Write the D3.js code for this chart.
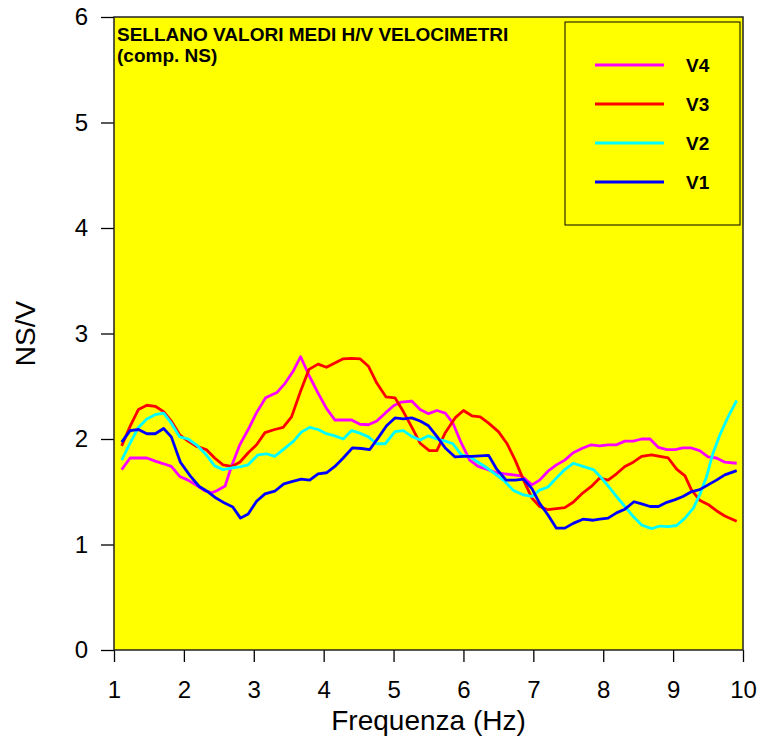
<!DOCTYPE html>
<html>
<head>
<meta charset="utf-8">
<script src="https://cdn.jsdelivr.net/npm/d3@7/dist/d3.min.js"></script>
<style>
  html, body { margin: 0; padding: 0; background: #ffffff; }
  svg { display: block; font-family: "Liberation Sans", Arial, sans-serif; }
</style>
</head>
<body>
<svg id="chart" width="762" height="743"></svg>
<script>
// Mean H/V ratio (NS component) for four velocimeters, Sellano
const freqV4 = [1.11,1.23,1.35,1.47,1.59,1.71,1.82,1.94,2.06,2.18,2.30,2.40,2.47,2.59,2.68,2.80,2.92,3.04,3.17,3.33,3.45,3.57,3.67,3.80,3.92,4.04,4.16,4.28,4.40,4.52,4.64,4.76,4.88,5.00,5.11,5.26,5.38,5.50,5.62,5.74,5.85,5.97,6.09,6.21,6.33,6.47,6.59,6.71,6.83,6.98,7.09,7.21,7.33,7.45,7.57,7.71,7.83,7.95,8.07,8.19,8.31,8.43,8.55,8.67,8.79,8.91,9.03,9.14,9.26,9.38,9.50,9.62,9.74,9.91];
const hvV4 = [1.71,1.82,1.82,1.82,1.79,1.765,1.74,1.645,1.61,1.56,1.51,1.49,1.51,1.555,1.74,1.945,2.09,2.25,2.39,2.44,2.53,2.65,2.78,2.59,2.435,2.29,2.18,2.18,2.18,2.14,2.135,2.17,2.245,2.315,2.35,2.36,2.28,2.24,2.27,2.245,2.15,1.96,1.80,1.74,1.715,1.68,1.67,1.66,1.65,1.565,1.61,1.695,1.755,1.80,1.87,1.915,1.945,1.935,1.945,1.945,1.98,1.98,2.00,2.00,1.92,1.90,1.90,1.915,1.915,1.89,1.83,1.82,1.78,1.77];

const freqV3 = [1.11,1.23,1.35,1.47,1.59,1.71,1.82,1.94,2.06,2.18,2.32,2.44,2.56,2.68,2.80,2.92,3.04,3.16,3.30,3.42,3.54,3.66,3.79,3.92,4.04,4.16,4.28,4.40,4.52,4.64,4.76,4.89,5.02,5.14,5.27,5.38,5.51,5.62,5.74,5.88,6.00,6.12,6.24,6.36,6.50,6.62,6.74,6.86,6.98,7.09,7.21,7.33,7.45,7.57,7.71,7.83,7.95,8.07,8.19,8.31,8.43,8.55,8.69,8.81,8.93,9.05,9.17,9.26,9.38,9.50,9.62,9.74,9.91];
const hvV3 = [1.935,2.12,2.28,2.32,2.31,2.26,2.17,2.04,1.98,1.93,1.90,1.82,1.755,1.74,1.78,1.87,1.945,2.06,2.09,2.11,2.21,2.435,2.66,2.71,2.68,2.72,2.76,2.765,2.76,2.69,2.53,2.40,2.39,2.26,2.10,1.96,1.89,1.89,2.06,2.20,2.27,2.22,2.21,2.15,2.07,1.96,1.80,1.61,1.44,1.36,1.33,1.34,1.35,1.40,1.49,1.55,1.63,1.61,1.67,1.74,1.78,1.835,1.85,1.835,1.82,1.715,1.65,1.52,1.42,1.38,1.32,1.27,1.22];

const freqV2 = [1.11,1.23,1.35,1.47,1.59,1.71,1.82,1.94,2.06,2.18,2.32,2.44,2.56,2.68,2.80,2.92,3.06,3.18,3.30,3.42,3.57,3.68,3.80,3.92,4.04,4.16,4.28,4.40,4.52,4.64,4.76,4.88,5.02,5.14,5.26,5.38,5.50,5.62,5.74,5.85,5.97,6.09,6.21,6.35,6.47,6.59,6.71,6.86,6.98,7.09,7.21,7.33,7.45,7.57,7.71,7.86,7.95,8.07,8.19,8.31,8.43,8.55,8.69,8.81,8.93,9.05,9.17,9.29,9.38,9.48,9.57,9.67,9.79,9.91];
const hvV2 = [1.80,1.96,2.11,2.19,2.23,2.245,2.15,2.02,2.00,1.945,1.85,1.745,1.71,1.725,1.735,1.755,1.85,1.86,1.835,1.90,1.98,2.065,2.11,2.09,2.05,2.03,2.00,2.08,2.055,2.02,1.955,1.955,2.07,2.08,2.025,1.99,2.03,2.00,1.98,1.955,1.85,1.83,1.78,1.72,1.66,1.60,1.515,1.47,1.455,1.515,1.545,1.63,1.71,1.77,1.74,1.71,1.65,1.555,1.455,1.36,1.265,1.185,1.15,1.175,1.17,1.18,1.25,1.345,1.47,1.645,1.865,2.04,2.215,2.365];

const freqV1 = [1.11,1.23,1.35,1.47,1.59,1.71,1.82,1.95,2.09,2.22,2.33,2.46,2.59,2.70,2.81,2.92,3.04,3.16,3.30,3.43,3.57,3.68,3.80,3.92,4.04,4.16,4.28,4.41,4.54,4.66,4.78,4.90,5.02,5.14,5.26,5.38,5.50,5.62,5.74,5.88,6.00,6.12,6.24,6.36,6.47,6.61,6.74,6.86,6.98,7.09,7.21,7.33,7.45,7.57,7.71,7.86,7.95,8.07,8.19,8.31,8.44,8.55,8.67,8.79,8.91,9.03,9.14,9.26,9.38,9.50,9.62,9.74,9.91];
const hvV1 = [1.97,2.08,2.09,2.05,2.05,2.10,2.02,1.78,1.65,1.55,1.505,1.44,1.39,1.355,1.25,1.29,1.41,1.48,1.505,1.575,1.60,1.62,1.61,1.67,1.68,1.74,1.82,1.915,1.91,1.90,2.01,2.125,2.20,2.19,2.20,2.17,2.125,2.025,1.915,1.83,1.835,1.835,1.84,1.845,1.72,1.61,1.61,1.62,1.53,1.39,1.28,1.155,1.155,1.20,1.24,1.23,1.24,1.25,1.30,1.335,1.405,1.385,1.36,1.36,1.40,1.425,1.455,1.50,1.52,1.565,1.61,1.66,1.70];

const seriesNames = ["V4", "V3", "V2", "V1"];
const seriesColors = ["#ff00ff", "#ff0000", "#00ffff", "#0000ff"];
const xTicks = [1, 2, 3, 4, 5, 6, 7, 8, 9, 10];
const yTicks = [0, 1, 2, 3, 4, 5, 6];
const titleLines = ["SELLANO VALORI MEDI H/V VELOCIMETRI", "(comp. NS)"];

const series = [
  { name: seriesNames[0], color: seriesColors[0], x: freqV4, y: hvV4 },
  { name: seriesNames[1], color: seriesColors[1], x: freqV3, y: hvV3 },
  { name: seriesNames[2], color: seriesColors[2], x: freqV2, y: hvV2 },
  { name: seriesNames[3], color: seriesColors[3], x: freqV1, y: hvV1 }
];

const svg = d3.select("#chart");
const plot = { left: 114, right: 743, top: 17, bottom: 650 };

const x = d3.scaleLinear().domain([1, 10]).range([plot.left, plot.right]);
const y = d3.scaleLinear().domain([0, 6]).range([plot.bottom, plot.top]);

// plot background
svg.append("rect")
  .attr("x", plot.left).attr("y", plot.top)
  .attr("width", plot.right - plot.left).attr("height", plot.bottom - plot.top)
  .attr("fill", "#ffff00");

// axes
const xAxis = svg.append("g")
  .attr("transform", `translate(0,${plot.bottom})`)
  .call(d3.axisBottom(x).tickValues(xTicks).tickSize(12).tickPadding(19).tickFormat(d3.format("d")));
const yAxis = svg.append("g")
  .attr("transform", `translate(${plot.left},0)`)
  .call(d3.axisLeft(y).tickValues(yTicks).tickSize(13).tickPadding(13).tickFormat(d3.format("d")));

[xAxis, yAxis].forEach(g => {
  g.select(".domain").remove();
  g.selectAll(".tick line").attr("stroke", "#000").attr("stroke-width", 1.3);
  g.selectAll(".tick text")
    .attr("fill", "#000")
    .style("font-family", "'Liberation Sans', Arial, sans-serif")
    .style("font-size", "24px");
});

// series lines
const line = d3.line().x(d => x(d[0])).y(d => y(d[1]));
svg.append("g")
  .selectAll("path")
  .data(series)
  .join("path")
  .attr("d", s => line(s.x.map((f, i) => [f, s.y[i]])))
  .attr("fill", "none")
  .attr("stroke", s => s.color)
  .attr("stroke-width", 2.8)
  .attr("stroke-linejoin", "round");

// frame
svg.append("rect")
  .attr("x", plot.left).attr("y", plot.top)
  .attr("width", plot.right - plot.left).attr("height", plot.bottom - plot.top)
  .attr("fill", "none").attr("stroke", "#222").attr("stroke-width", 1.5);

// title
svg.append("g")
  .selectAll("text")
  .data(titleLines)
  .join("text")
  .attr("x", plot.left + 3)
  .attr("y", (d, i) => 41 + i * 21)
  .attr("font-size", "19px")
  .attr("font-weight", "bold")
  .attr("fill", "#000")
  .text(d => d);

// legend
const legend = svg.append("g");
legend.append("rect")
  .attr("x", 565).attr("y", 22).attr("width", 175).attr("height", 203)
  .attr("fill", "#ffff00").attr("stroke", "#000").attr("stroke-width", 1);
const legendY = d3.scalePoint().domain(seriesNames).range([65, 182]);
const items = legend.selectAll("g.item")
  .data(series)
  .join("g").attr("class", "item")
  .attr("transform", s => `translate(0,${legendY(s.name)})`);
items.append("line")
  .attr("x1", 595).attr("x2", 664)
  .attr("stroke", s => s.color).attr("stroke-width", 2.8);
items.append("text")
  .attr("x", 686).attr("dy", "0.36em")
  .attr("font-size", "19px").attr("font-weight", "bold")
  .attr("fill", "#000")
  .text(s => s.name);

// axis titles
svg.append("text")
  .attr("x", (plot.left + plot.right) / 2)
  .attr("y", 730)
  .attr("text-anchor", "middle")
  .attr("font-size", "28px")
  .attr("fill", "#000")
  .text("Frequenza (Hz)");
svg.append("text")
  .attr("transform", `translate(35,${(plot.top + plot.bottom) / 2}) rotate(-90)`)
  .attr("text-anchor", "middle")
  .attr("font-size", "28px")
  .attr("fill", "#000")
  .text("NS/V");
</script>
</body>
</html>
